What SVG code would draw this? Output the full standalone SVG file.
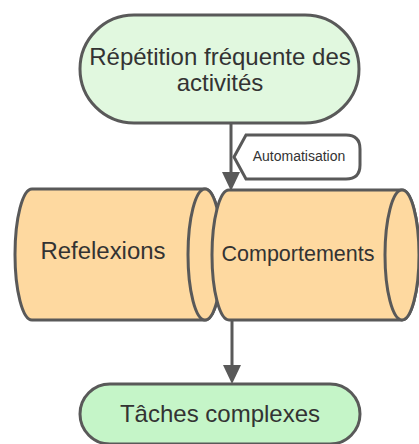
<svg xmlns="http://www.w3.org/2000/svg" width="419" height="444" viewBox="0 0 419 444">
<style>
.s{stroke:#595959;stroke-width:3;}
.t{font-family:"Liberation Sans",Arial,sans-serif;fill:#333;text-anchor:middle;}
.cyl{fill:#fed9a0;}
</style>
<rect width="419" height="444" fill="#fff"/>
<g id="connectors" class="s" fill="none">
<line x1="231" y1="123" x2="231" y2="172"/>
<path d="M222,172 L240,172 L231,191 Z" fill="#595959" stroke="none"/>
<line x1="232" y1="320" x2="232" y2="365"/>
<path d="M223,365 L241,365 L232,384 Z" fill="#595959" stroke="none"/>
</g>
<g id="n1">
<rect x="80" y="15" width="279" height="108" rx="54" fill="#e1f8df" class="s"/>
<text class="t" x="220" y="65" font-size="24">Répétition fréquente des</text>
<text class="t" x="220" y="91" font-size="24">activités</text>
</g>
<g id="label">
<path d="M246,135 L346,135 Q360,135 360,149 L360,165 Q360,179 346,179 L246,179 L234,157 Z" fill="#fff" class="s"/>
<text class="t" x="299" y="161" font-size="14">Automatisation</text>
</g>
<g id="n2">
<path d="M32,189 L205,189 A17,65.5 0 0 1 205,320 L32,320 A17,65.5 0 0 1 32,189 Z" class="cyl s"/>
<ellipse cx="205" cy="254.5" rx="17" ry="65.5" class="cyl s"/>
<text class="t" x="103" y="259" font-size="23" textLength="125" lengthAdjust="spacingAndGlyphs">Refelexions</text>
</g>
<g id="n3">
<path d="M229,190 L402,190 A17,65 0 0 1 402,320 L229,320 A17,65 0 0 1 229,190 Z" class="cyl s"/>
<ellipse cx="402" cy="255" rx="17" ry="65" class="cyl s"/>
<text class="t" x="298" y="261" font-size="22" textLength="153" lengthAdjust="spacingAndGlyphs">Comportements</text>
</g>
<g id="n4">
<rect x="80" y="384" width="280" height="60" rx="30" fill="#c5f5c8" class="s"/>
<text class="t" x="220" y="422" font-size="24">Tâches complexes</text>
</g>
</svg>
